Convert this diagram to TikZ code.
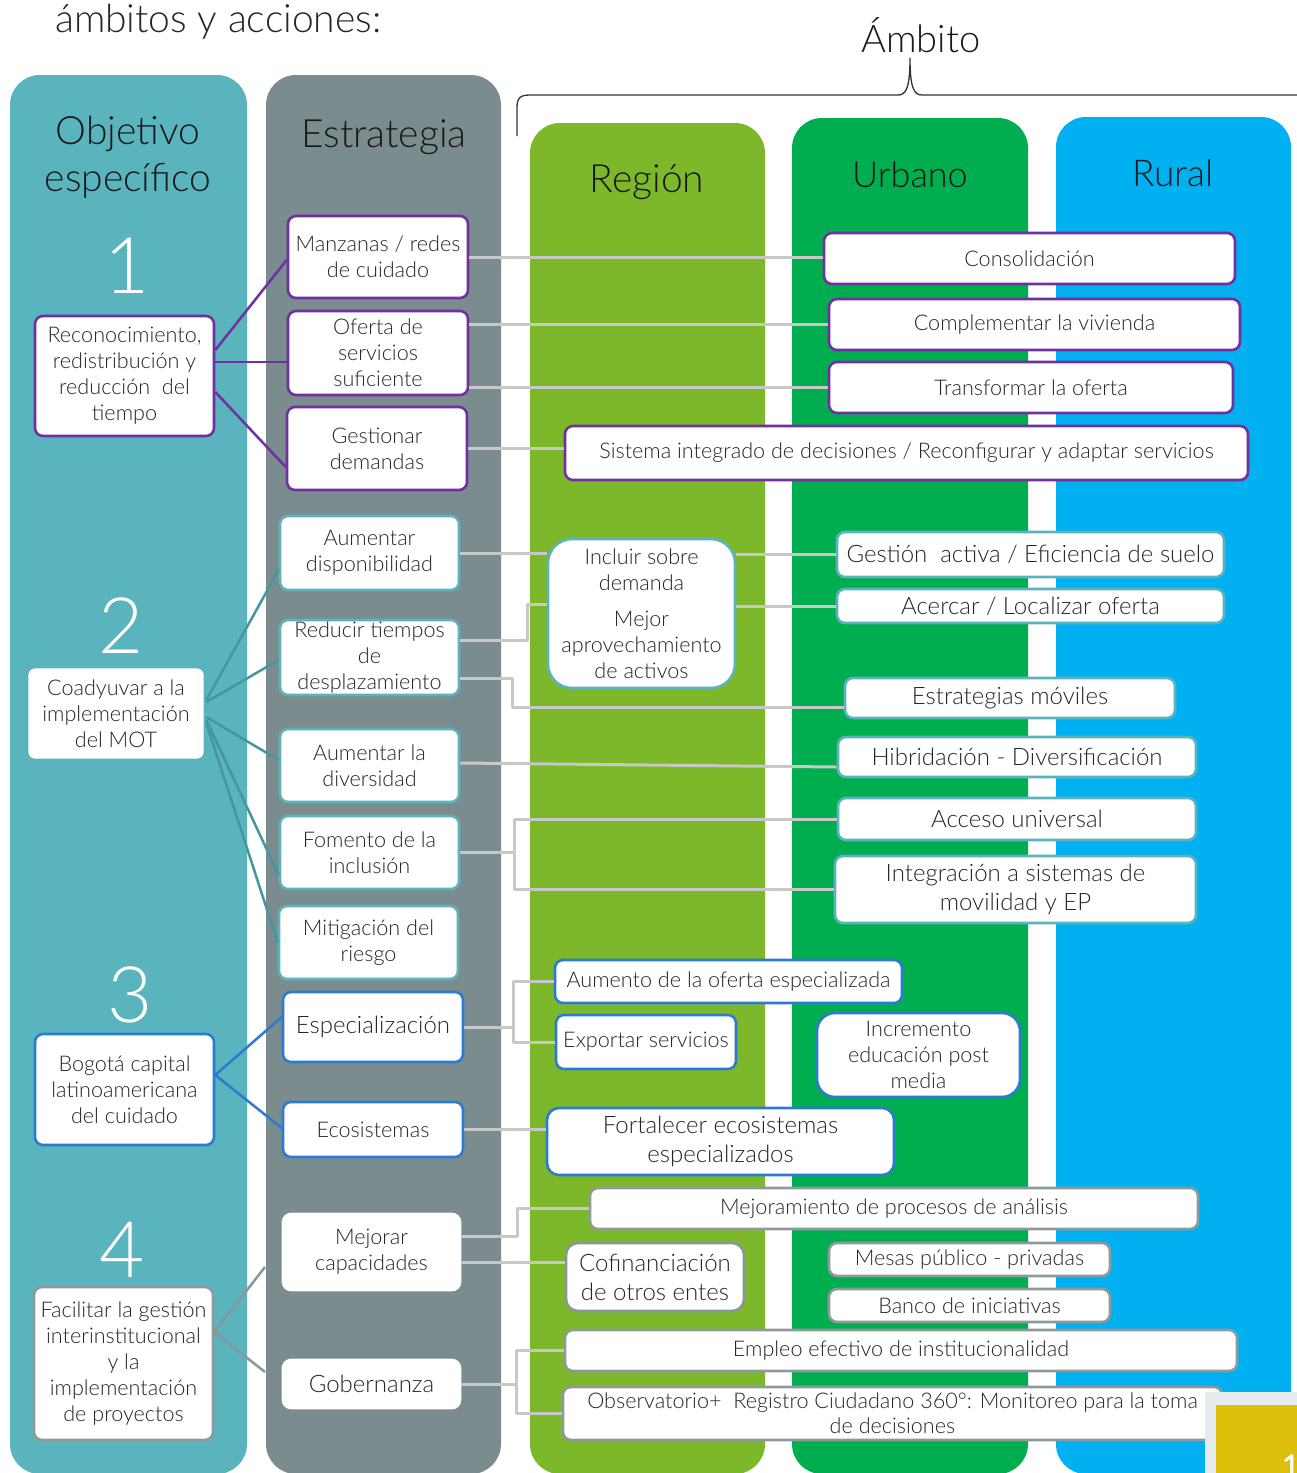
\documentclass[tikz,border=0pt]{standalone}
\usepackage{fontspec}
\setmainfont{Lato Light}
\definecolor{colobj}{HTML}{5AB4BE}
\definecolor{colest}{HTML}{7B8C8E}
\definecolor{colreg}{HTML}{7CB82A}
\definecolor{colurb}{HTML}{00AE50}
\definecolor{colrur}{HTML}{00B0F0}
\definecolor{cpurple}{HTML}{7030A0}
\definecolor{cteal}{HTML}{5CB3BE}
\definecolor{ctealdk}{HTML}{4696A2}
\definecolor{cblue}{HTML}{2B7BD0}
\definecolor{cgray}{HTML}{8D999B}
\definecolor{cgraydk}{HTML}{8A9799}
\definecolor{linkgray}{HTML}{C8C8C8}
\definecolor{txt}{HTML}{262626}
\definecolor{tagbg}{HTML}{E6ECEE}
\definecolor{tagyel}{HTML}{DDBF0C}
\begin{document}
\begin{tikzpicture}[x=1pt, y=-1pt, line join=round,
  box/.style={draw, fill=white, rounded corners=8pt, line width=2.6pt, align=center, inner sep=1pt, text=txt, font=\fontsize{21.6}{26}\selectfont},
  pbox/.style={box, draw=cpurple},
  tbox/.style={box, draw=cteal},
  bbox/.style={box, draw=cblue},
  gbox/.style={box, draw=cgray},
  big/.style={font=\fontsize{24}{29}\selectfont},
  sz/.style 2 args={minimum width=#1pt, minimum height=#2pt},
  head/.style={text=black!90, font=\fontsize{39}{47}\selectfont, align=center, inner sep=0pt},
  num/.style={text=white, font=\fontsize{78}{80}\selectfont, anchor=base, inner sep=0pt},
  link/.style={draw=linkgray, line width=3pt},
  plink/.style={draw=cpurple, line width=2.5pt},
  tlink/.style={draw=ctealdk, line width=2.5pt},
  blink/.style={draw=cblue, line width=2.5pt},
  glink/.style={draw=cgraydk, line width=2.5pt}]
\useasboundingbox (0,0) rectangle (1297,1473);
\fill[white] (0,0) rectangle (1297,1473);

\foreach \xa/\xb/\ya/\col in {10/247/75/colobj, 266/501/75/colest, 530/765/123/colreg, 792/1028/118/colurb, 1056/1291/117/colrur}
{
    \fill[\col, rounded corners=30pt] (\xa,\ya) rectangle (\xb,1474);
}

\node[anchor=base west, inner sep=0pt, text=black!85, font=\fontsize{39}{40}\selectfont] (title) at (55,32) {ámbitos y acciones:};
\node[anchor=base, inner sep=0pt, text=black!90, font=\fontsize{38}{40}\selectfont] (ambito) at (921,52) {Ámbito};
\draw[line width=1.3pt, black!80] (517,136) -- (517,108) .. controls (517,98) and (520,95) .. (530,95) -- (898,95) .. controls (906,95) and (910,88) .. (910,58) .. controls (910,88) and (914,95) .. (922,95) -- (1300,95);

\node[head] (hobj) at (128,157) {Objetivo\\específico};
\node[head, anchor=base] (hest) at (384,147) {Estrategia};
\node[head, anchor=base] (hreg) at (647,192) {Región};
\node[head, anchor=base, font=\fontsize{36}{40}\selectfont] (hurb) at (910,187) {Urbano};
\node[head, anchor=base, font=\fontsize{37}{40}\selectfont] (hrur) at (1173,186) {Rural};

\foreach \n/\x/\y in {1/127/293, 2/121/653, 3/130/1022, 4/122/1277}
{
    \node[num] (num\n) at (\x,\y) {\n};
}

% objetivos
\node[pbox, sz={179}{120}] (o1) at (124.5,376) {Reconocimiento,\\redistribución y\\reducción~ del\\tiempo};
\node[tbox, sz={178}{93}] (o2) at (116,713.5) {Coadyuvar a la\\implementación\\del MOT};
\node[bbox, sz={179}{111}] (o3) at (124.5,1089.5) {Bogotá capital\\latinoamericana\\del cuidado};
\node[gbox, sz={179}{153}] (o4) at (123.5,1363.5) {Facilitar la gestión\\interinstitucional\\y la\\implementación\\de proyectos};

% estrategias
\node[pbox, sz={180}{82}] (s1) at (378,257) {Manzanas / redes\\de cuidado};
\node[pbox, sz={180}{84}] (s2) at (378,353) {Oferta de\\servicios\\suficiente};
\node[pbox, sz={180}{83}] (s3) at (377,448.5) {Gestionar\\demandas};
\node[tbox, sz={179}{74}] (s4) at (369.5,553) {Aumentar\\disponibilidad};
\node[tbox, sz={179}{75}] (s5) at (369.5,657.5) {Reducir tiempos\\de\\desplazamiento};
\node[tbox, sz={179}{73}] (s6) at (369.5,765.5) {Aumentar la\\diversidad};
\node[tbox, sz={179}{73}] (s7) at (369.5,852.5) {Fomento de la\\inclusión};
\node[tbox, sz={179}{73}] (s8) at (368.5,942.5) {Mitigación del\\riesgo};
\node[bbox, big, sz={180}{70}] (s9) at (373,1027) {Especialización};
\node[bbox, sz={180}{55}] (s10) at (373,1129.5) {Ecosistemas};
\node[gbox, draw=white, sz={177}{76}] (s11) at (371.5,1252) {Mejorar\\capacidades};
\node[gbox, draw=white, big, sz={177}{48}] (s12) at (371.5,1384) {Gobernanza};

% acciones por ambito
\node[pbox, sz={411}{51}] (consol) at (1029.5,258.5) {Consolidación};
\node[pbox, sz={411}{51}] (complem) at (1034.5,324.5) {Complementar la vivienda};
\node[pbox, sz={404}{51}] (transf) at (1031,387.5) {Transformar la oferta};
\node[pbox, sz={683}{54}] (sistema) at (906.5,453) {Sistema integrado de decisiones / Reconfigurar y adaptar servicios};
\node[tbox, rounded corners=24pt, sz={187}{149}] (incluir) at (641.5,613.5) {Incluir sobre\\demanda\\[10pt]Mejor\\aprovechamiento\\de activos};
\node[tbox, big, sz={387}{45}] (gestion) at (1030.5,554.5) {Gestión~ activa / Eficiencia de suelo};
\node[tbox, big, sz={387}{34}] (acercar) at (1030.5,606) {Acercar / Localizar oferta};
\node[tbox, big, sz={330}{40}] (moviles) at (1010,698) {Estrategias móviles};
\node[tbox, big, sz={358}{40}] (hibrid) at (1017,757) {Hibridación - Diversificación};
\node[tbox, big, sz={358}{42}] (acceso) at (1017,819) {Acceso universal};
\node[tbox, big, sz={361}{67}] (integra) at (1015.5,889.5) {Integración a sistemas de\\movilidad y EP};
\node[bbox, sz={347}{43}] (aumento) at (728.5,981.5) {Aumento de la oferta especializada};
\node[bbox, sz={180}{54}] (exportar) at (646,1042) {Exportar servicios};
\node[bbox, rounded corners=18pt, sz={203}{84}] (increm) at (918.5,1055) {Incremento\\educación post\\media};
\node[bbox, big, rounded corners=12pt, sz={347}{67}] (fortal) at (720.5,1141.5) {Fortalecer ecosistemas\\especializados};
\node[gbox, sz={608}{41}] (mejoram) at (894,1208.5) {Mejoramiento de procesos de análisis};
\node[gbox, big, rounded corners=12pt, draw=cgraydk, sz={178}{68}] (cofin) at (655,1277) {Cofinanciación\\de otros entes};
\node[gbox, sz={281}{33}] (mesas) at (969.5,1259.5) {Mesas público - privadas};
\node[gbox, sz={281}{33}] (banco) at (969.5,1305.5) {Banco de iniciativas};
\node[gbox, sz={672}{41}] (empleo) at (901,1350.5) {Empleo efectivo de institucionalidad};
\node[gbox, sz={659}{53}, font=\fontsize{21.6}{25}\selectfont] (observ) at (892.5,1413.5) {Observatorio+~ Registro Ciudadano 360°: Monitoreo para la toma\\de decisiones};

% objetivo -> estrategia
\draw[plink] ([yshift=26pt]o1.east) -- ([yshift=-3pt]s1.west);
\draw[plink] ([yshift=14pt]o1.east) -- ([yshift=14pt]o1.east -| s2.west);
\draw[plink] ([yshift=-16pt]o1.east) -- ([yshift=-18.5pt]s3.west);
\foreach \s/\a/\b in {s4/13.5/-17, s5/11.5/-2.5, s6/-3.5/5.5, s7/-6.5/-22.5, s8/-9.5/0}
{
    \draw[tlink] ([yshift=\a pt]o2.east) -- ([yshift=\b pt]\s.west);
}
\draw[blink] ([yshift=14.5pt]o3.east) -- ([yshift=10pt]s9.west);
\draw[blink] ([yshift=14.5pt]o3.east) -- ([yshift=1.5pt]s10.west);
\coordinate (g4a) at (265,1267);
\coordinate (g4b) at (265,1372);
\draw[glink] ([yshift=31.5pt]o4.east) -- (g4a);
\draw[glink] ([yshift=31.5pt]o4.east) -- (g4b);

% estrategia -> acciones
\draw[link] (s1.east) -- (s1.east -| consol.west);
\draw[link] (s2.east |- complem.west) -- (complem.west);
\draw[link] (s2.east |- transf.west) -- (transf.west);
\draw[link] (s3.east) -- (s3.east -| sistema.west);
\draw[link] (s4.east) -- (s4.east -| incluir.west);
\draw[link] (incluir.east |- gestion.west) -- (gestion.west);
\draw[link] (incluir.east |- acercar.west) -- (acercar.west);
\draw[link] ([yshift=17.5pt]s5.east) -- ++(67,0) |- ([yshift=9.5pt]incluir.west);
\draw[link] ([yshift=-20.5pt]s5.east) -- ++(52,0) |- ([yshift=-9pt]moviles.west);
\draw[link] ([yshift=2.5pt]s6.east) -- ([yshift=-10pt]hibrid.west);
\draw[link] (s7.east) -- ++(54,0) coordinate (t7) |- (acceso.west);
\draw[link] (t7) |- (integra.west);
\draw[link] (s9.east) -- ++(49,0) coordinate (t9) |- (aumento.west);
\draw[link] (t9) |- (exportar.west);
\draw[link] (s10.east) -- (s10.east -| fortal.west);
\draw[link] ([yshift=16pt]s11.east) -- ++(56,0) |- (mejoram.west);
\draw[link] ([yshift=-10pt]s11.east) -- ([yshift=-10pt]s11.east -| cofin.west);
\draw[link] (s12.east) -- ++(55,0) coordinate (t12) |- (empleo.west);
\draw[link] (t12) |- (observ.west);

% numero de pagina
\fill[tagbg] (1205,1392) rectangle (1300,1476);
\fill[tagyel] (1216,1405) rectangle (1300,1476);
\node[anchor=north west, inner sep=0pt, text=white, font=\fontsize{30}{30}\selectfont\bfseries] (pag) at (1282,1455) {1};
\end{tikzpicture}
\end{document}
